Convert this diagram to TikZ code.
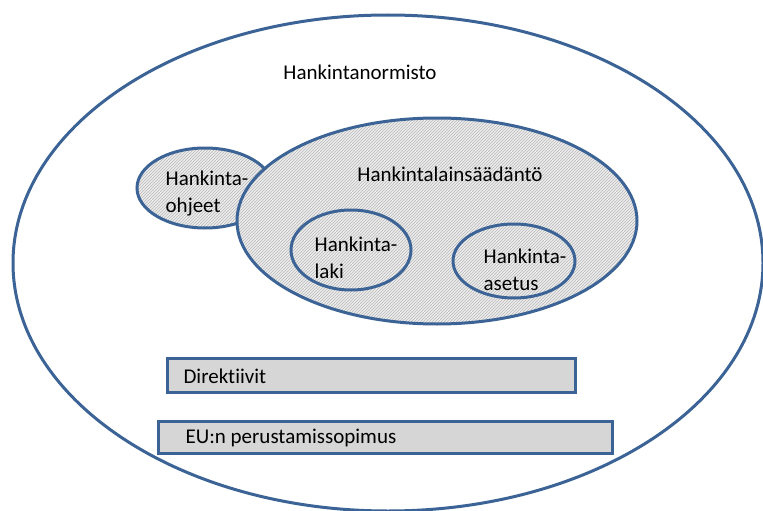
\documentclass[tikz,border=0pt]{standalone}
\usepackage{fontspec}
\setmainfont{Carlito}[Ligatures=NoCommon]
\usetikzlibrary{patterns}
\definecolor{edge}{HTML}{3B6396}
\definecolor{boxfill}{HTML}{D6D6D6}
\tikzset{
  hatched/.style={draw=edge, line width=3pt, preaction={fill=gray!14}, pattern=north east lines, pattern color=gray!55},
  outerell/.style={draw=edge, line width=3pt, fill=white},
  bar/.style={draw=edge, line width=3pt, fill=boxfill},
  lbl/.style={font=\fontsize{21}{27}\selectfont, align=left, text=black}
}
\begin{document}
\begin{tikzpicture}[x=1pt,y=-1pt]
\useasboundingbox (0,0) rectangle (763,511);
\draw[outerell] (388,263) ellipse [x radius=375, y radius=248];
\node[lbl] (norm) at (360,72) {Hankintanormisto};
\draw[hatched] (205,188) ellipse [x radius=68, y radius=40];
\draw[hatched] (437,221) ellipse [x radius=200, y radius=103];
\draw[edge, line width=3pt] (351,250) ellipse [x radius=60, y radius=40];
\draw[edge, line width=3pt] (514,261) ellipse [x radius=61, y radius=37];
\node[lbl] (ohj) at (207,194) {Hankinta-\\ohjeet};
\node[lbl] (lsd) at (450,174) {Hankintalainsäädäntö};
\node[lbl] (laki) at (356,258) {Hankinta-\\laki};
\node[lbl] (ase) at (525,270) {Hankinta-\\asetus};
\draw[bar] (167,358) rectangle (575,392);
\node[lbl, anchor=west] (dir) at (180,376) {Direktiivit};
\draw[bar] (158,421) rectangle (612,453);
\node[lbl, anchor=west] (eu) at (182,438) {EU:n perustamissopimus};
\end{tikzpicture}
\end{document}
